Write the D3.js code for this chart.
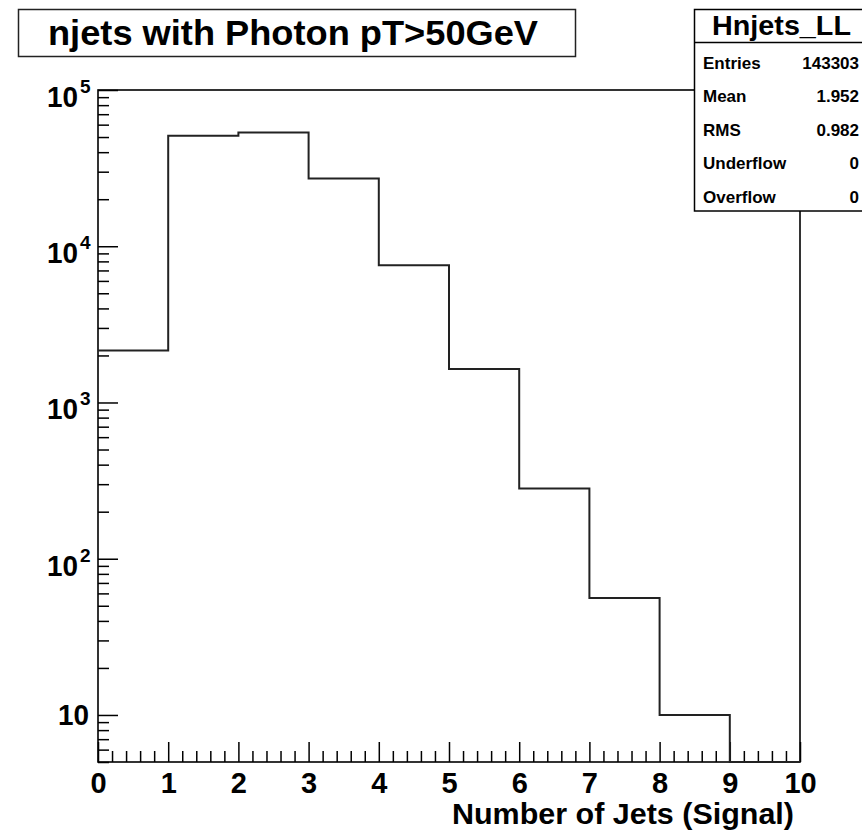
<!DOCTYPE html>
<html>
<head>
<meta charset="utf-8">
<script src="https://cdn.jsdelivr.net/npm/d3@7/dist/d3.min.js"></script>
<style>
  html, body { margin: 0; padding: 0; background: #fff; }
  svg { display: block; font-family: "Liberation Sans", Arial, Helvetica, sans-serif; font-weight: bold; }
</style>
</head>
<body>
<svg id="chart" width="862" height="833"></svg>
<script>
// Histogram contents: number of jets per event (bin low edges and entries)
const binLow = [0, 1, 2, 3, 4, 5, 6, 7, 8, 9];
const counts = [2150, 50900, 53500, 27150, 7570, 1640, 282, 56, 10, 0];

// Axis ticks and labels
const xMajorTicks = [0, 1, 2, 3, 4, 5, 6, 7, 8, 9, 10];
const xTickLabels = ["0", "1", "2", "3", "4", "5", "6", "7", "8", "9", "10"];
const yMajorTicks = [10, 100, 1000, 10000, 100000];
const yTickBase = ["10", "10", "10", "10", "10"];
const yTickExp = ["", "2", "3", "4", "5"];

// Statistics box
const statsTitle = "Hnjets_LL";
const statNames = ["Entries", "Mean", "RMS", "Underflow", "Overflow"];
const statValues = ["143303", "1.952", "0.982", "0", "0"];

const titleText = "njets with Photon pT>50GeV";
const xTitle = "Number of Jets (Signal)";

const svg = d3.select("#chart");
const L = 98, R = 800, T = 90, B = 762;
const yMin = 5, yMax = 1e5;

const x = d3.scaleLinear().domain([0, 10]).range([L, R]);
const y = d3.scaleLog().domain([yMin, yMax]).range([B, T]);

// Frame
svg.append("rect")
  .attr("x", L).attr("y", T).attr("width", R - L).attr("height", B - T)
  .attr("fill", "none").attr("stroke", "#000").attr("stroke-width", 1.6);

// Minor and major ticks (pointing into the frame)
const xMinor = d3.range(0, 10.0001, 0.2).filter(v => Math.abs(v - Math.round(v)) > 1e-6);
const yMinor = [];
for (let e = 0; e <= 4; e++) {
  for (let m = 2; m <= 9; m++) {
    const v = m * Math.pow(10, e);
    if (v >= yMin && v <= yMax) yMinor.push(v);
  }
}

function styleAxis(g) {
  g.select(".domain").remove();
  g.selectAll("line").attr("stroke", "#000").attr("stroke-width", 1.5);
}

svg.append("g").attr("transform", `translate(0,${B})`)
  .call(d3.axisBottom(x).tickValues(xMinor).tickSize(-11).tickFormat(""))
  .call(styleAxis);
const xMajG = svg.append("g").attr("transform", `translate(0,${B})`)
  .call(d3.axisBottom(x).tickValues(xMajorTicks).tickSize(-20)
    .tickFormat((d, i) => xTickLabels[i]))
  .call(styleAxis);
xMajG.selectAll("text")
  .attr("y", 31).attr("dy", null)
  .attr("fill", "#000")
  .style("font-size", "29px").style("font-weight", "bold")
  .style("font-family", "'Liberation Sans', Arial, sans-serif");

svg.append("g").attr("transform", `translate(${L},0)`)
  .call(d3.axisLeft(y).tickValues(yMinor).tickSize(-11).tickFormat(""))
  .call(styleAxis);
svg.append("g").attr("transform", `translate(${L},0)`)
  .call(d3.axisLeft(y).tickValues(yMajorTicks).tickSize(-20).tickFormat(""))
  .call(styleAxis);

// Y tick labels: 10, 10^2 ... 10^5
const yLab = svg.append("g");
yMajorTicks.forEach((v, i) => {
  const ty = y(v);
  if (yTickExp[i] === "") {
    yLab.append("text").attr("x", 89).attr("y", ty + 10)
      .attr("text-anchor", "end").attr("textLength", 31).attr("lengthAdjust", "spacingAndGlyphs")
      .style("font-size", "29px").text(yTickBase[i]);
  } else {
    yLab.append("text").attr("x", 78).attr("y", ty + 17)
      .attr("text-anchor", "end").attr("textLength", 31).attr("lengthAdjust", "spacingAndGlyphs")
      .style("font-size", "29px").text(yTickBase[i]);
    yLab.append("text").attr("x", 80).attr("y", ty + 3)
      .attr("text-anchor", "start").style("font-size", "19px").text(yTickExp[i]);
  }
});

// Histogram outline (step line)
const pts = [];
binLow.forEach((lo, i) => {
  const v = Math.max(counts[i], yMin);
  pts.push([lo, v]);
});
pts.push([10, Math.max(counts[counts.length - 1], yMin)]);
const step = d3.line().x(d => x(d[0])).y(d => y(d[1])).curve(d3.curveStepAfter);
svg.append("path").attr("d", step(pts))
  .attr("fill", "none").attr("stroke", "#222").attr("stroke-width", 2);

// X axis title
svg.append("text").attr("x", 794).attr("y", 824).attr("text-anchor", "end")
  .attr("textLength", 342).attr("lengthAdjust", "spacingAndGlyphs")
  .style("font-size", "29px").text(xTitle);

// Title box
svg.append("rect").attr("x", 18.5).attr("y", 9.5).attr("width", 557).attr("height", 47)
  .attr("fill", "#fff").attr("stroke", "#222").attr("stroke-width", 1.5);
svg.append("text").attr("x", 48).attr("y", 45)
  .attr("textLength", 490).attr("lengthAdjust", "spacingAndGlyphs")
  .style("font-size", "35px").text(titleText);

// Statistics box
const sx = 694.5, sy = 9.5, sw = 175, sh = 201.5;
svg.append("rect").attr("x", sx).attr("y", sy).attr("width", sw).attr("height", sh)
  .attr("fill", "#fff").attr("stroke", "#000").attr("stroke-width", 1.5);
svg.append("line").attr("x1", sx).attr("x2", sx + sw).attr("y1", 42.5).attr("y2", 42.5)
  .attr("stroke", "#000").attr("stroke-width", 1.5);
svg.append("text").attr("x", 712).attr("y", 35)
  .attr("textLength", 139).attr("lengthAdjust", "spacingAndGlyphs")
  .style("font-size", "27px").text(statsTitle);
statNames.forEach((n, i) => {
  const cy = 62.5 + i * 33.5;
  svg.append("text").attr("x", 703).attr("y", cy + 6)
    .style("font-size", "17px").text(n);
  svg.append("text").attr("x", 859).attr("y", cy + 6).attr("text-anchor", "end")
    .style("font-size", "17px").text(statValues[i]);
});
</script>
</body>
</html>
